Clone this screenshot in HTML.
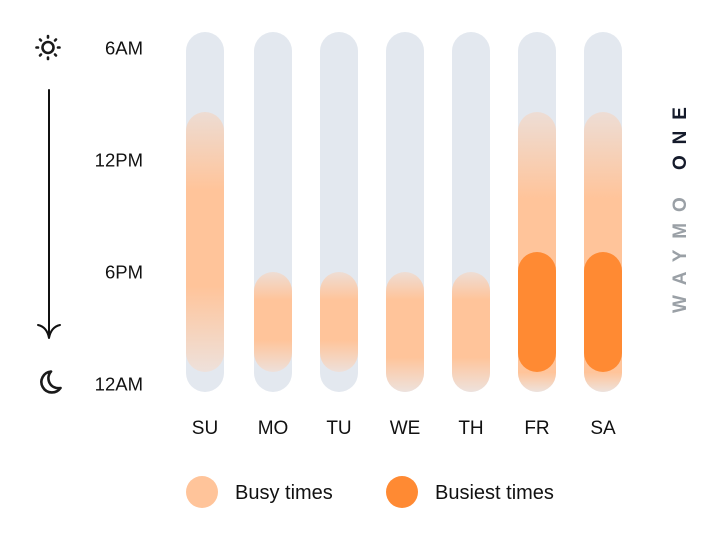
<!DOCTYPE html>
<html>
<head>
<meta charset="utf-8">
<style>
html,body{margin:0;padding:0;background:#fff;}
svg{display:block;}
text{font-family:"Liberation Sans",sans-serif;}
</style>
</head>
<body>
<svg width="722" height="540" viewBox="0 0 722 540" xmlns="http://www.w3.org/2000/svg">
<defs>
<linearGradient id="gSU" x1="0" y1="0" x2="0" y2="1">
<stop offset="0" stop-color="#EDDCD3"/>
<stop offset="0.3" stop-color="#FFC49A"/>
<stop offset="0.67" stop-color="#FFC49A"/>
<stop offset="1" stop-color="#EEE1DB"/>
</linearGradient>
<linearGradient id="gFR" x1="0" y1="0" x2="0" y2="1">
<stop offset="0" stop-color="#EDDDD5"/>
<stop offset="0.31" stop-color="#FFC49A"/>
<stop offset="0.93" stop-color="#FFC49A"/>
<stop offset="1" stop-color="#EEE2DC"/>
</linearGradient>
<linearGradient id="gMO" x1="0" y1="0" x2="0" y2="1">
<stop offset="0" stop-color="#EEDDD4"/>
<stop offset="0.28" stop-color="#FFC49A"/>
<stop offset="0.68" stop-color="#FFC49A"/>
<stop offset="1" stop-color="#EEE0DA"/>
</linearGradient>
<linearGradient id="gWE" x1="0" y1="0" x2="0" y2="1">
<stop offset="0" stop-color="#EEDDD4"/>
<stop offset="0.23" stop-color="#FFC49A"/>
<stop offset="0.71" stop-color="#FFC49A"/>
<stop offset="1" stop-color="#EEE2DD"/>
</linearGradient>
</defs>

<!-- gray tracks -->
<g fill="#E3E8EF">
<rect x="186" y="32" width="38" height="360" rx="19"/>
<rect x="254" y="32" width="38" height="360" rx="19"/>
<rect x="320" y="32" width="38" height="360" rx="19"/>
<rect x="386" y="32" width="38" height="360" rx="19"/>
<rect x="452" y="32" width="38" height="360" rx="19"/>
<rect x="518" y="32" width="38" height="360" rx="19"/>
<rect x="584" y="32" width="38" height="360" rx="19"/>
</g>

<!-- busy -->
<rect x="186" y="112" width="38" height="260" rx="19" fill="url(#gSU)"/>
<rect x="254" y="272" width="38" height="100" rx="19" fill="url(#gMO)"/>
<rect x="320" y="272" width="38" height="100" rx="19" fill="url(#gMO)"/>
<rect x="386" y="272" width="38" height="120" rx="19" fill="url(#gWE)"/>
<rect x="452" y="272" width="38" height="120" rx="19" fill="url(#gWE)"/>
<rect x="518" y="112" width="38" height="280" rx="19" fill="url(#gFR)"/>
<rect x="584" y="112" width="38" height="280" rx="19" fill="url(#gFR)"/>

<!-- busiest -->
<rect x="518" y="252" width="38" height="120" rx="19" fill="#FF8A33"/>
<rect x="584" y="252" width="38" height="120" rx="19" fill="#FF8A33"/>

<!-- time labels -->
<g font-size="18.5" fill="#111" text-anchor="end" letter-spacing="0">
<text x="143" y="54.5">6AM</text>
<text x="143" y="166.5">12PM</text>
<text x="143" y="278.5">6PM</text>
<text x="143" y="390.5">12AM</text>
</g>

<!-- sun -->
<g stroke="#1a1a1a" stroke-width="2.6" stroke-linecap="round" fill="none">
<circle cx="48" cy="47.5" r="5.5"/>
<line x1="48" y1="36" x2="48" y2="37.5"/>
<line x1="48" y1="57.5" x2="48" y2="59"/>
<line x1="36.5" y1="47.5" x2="38" y2="47.5"/>
<line x1="58" y1="47.5" x2="59.5" y2="47.5"/>
<line x1="40" y1="39.5" x2="41" y2="40.5"/>
<line x1="55" y1="54.5" x2="56" y2="55.5"/>
<line x1="56" y1="39.5" x2="55" y2="40.5"/>
<line x1="40" y1="55.5" x2="41" y2="54.5"/>
</g>

<!-- arrow -->
<g stroke="#111" stroke-width="2" fill="none" stroke-linecap="round">
<line x1="49" y1="90" x2="49" y2="338"/>
<path d="M38,325 Q47,327 49,338 Q51,327 60,325"/>
</g>

<!-- moon -->
<path d="M51,371.5 A10.5,10.5 0 1 0 60.5,388 A10,10 0 0 1 51,371.5 Z" fill="none" stroke="#1a1a1a" stroke-width="2.6" stroke-linejoin="round"/>

<!-- day labels -->
<g font-size="19" fill="#111" text-anchor="middle">
<text x="205" y="434">SU</text>
<text x="273" y="434">MO</text>
<text x="339" y="434">TU</text>
<text x="405" y="434">WE</text>
<text x="471" y="434">TH</text>
<text x="537" y="434">FR</text>
<text x="603" y="434">SA</text>
</g>

<!-- legend -->
<circle cx="202" cy="492" r="16" fill="#FFC49A"/>
<circle cx="402" cy="492" r="16" fill="#FF8A33"/>
<g font-size="20" fill="#111">
<text x="235" y="499">Busy times</text>
<text x="435" y="499">Busiest times</text>
</g>

<!-- brand -->
<text transform="translate(686,313) rotate(-90)" font-size="19" font-weight="bold" textLength="206" lengthAdjust="spacing"><tspan fill="#9AA0A6">WAYMO </tspan><tspan fill="#151B2B">ONE</tspan></text>
</svg>
</body>
</html>
